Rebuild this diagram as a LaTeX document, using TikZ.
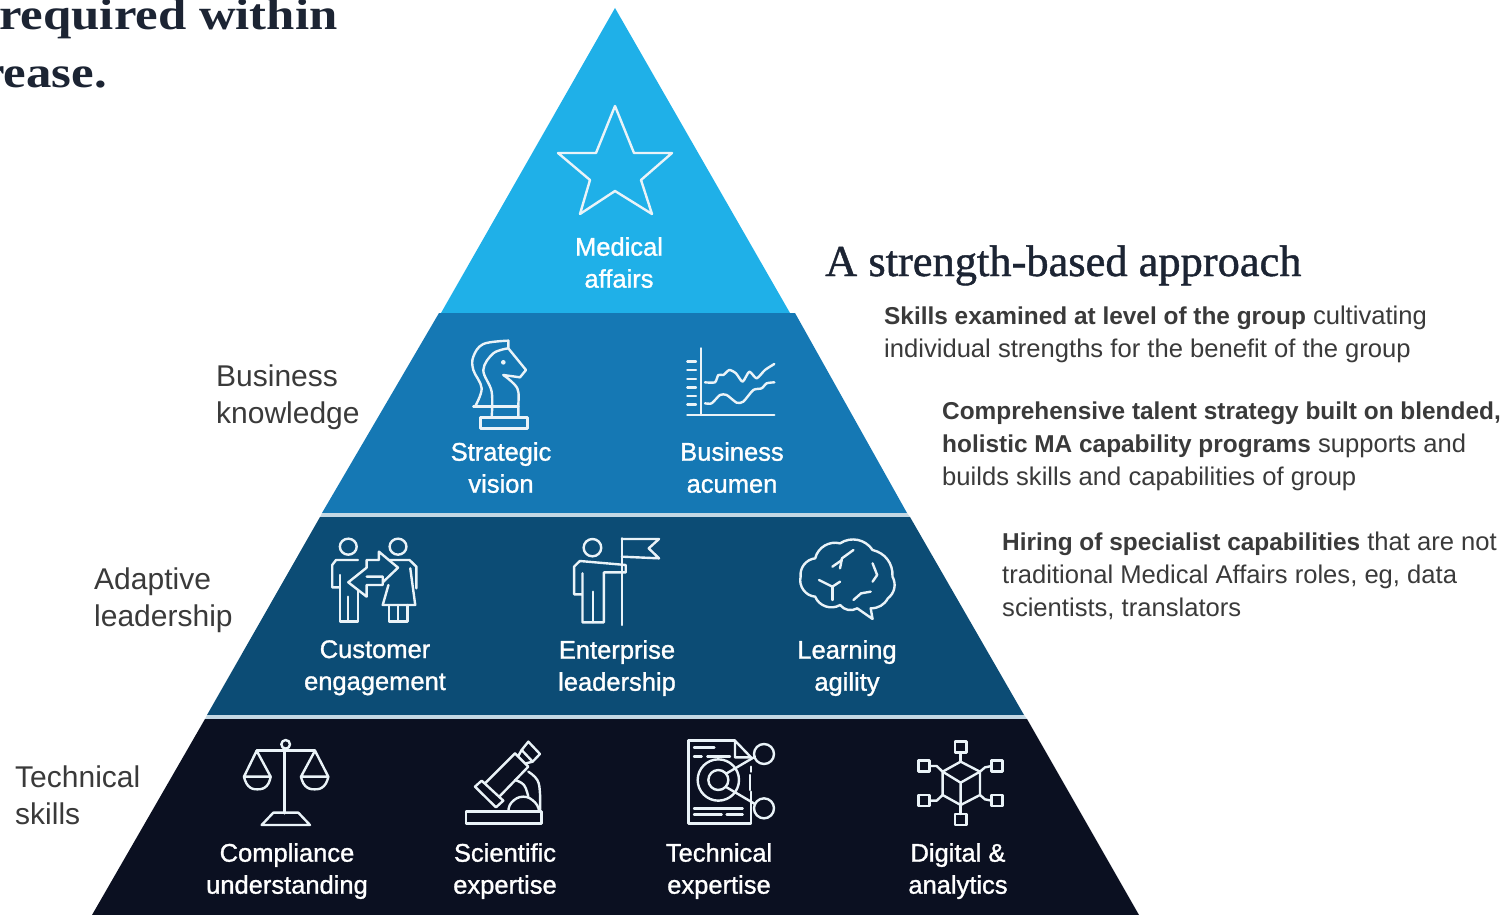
\documentclass[tikz,border=0pt]{standalone}
\usepackage{fontspec}
\setmainfont{Liberation Sans}
\newfontfamily\headfont[FakeBold=1,FakeStretch=1.01]{Liberation Serif}
\newfontfamily\cropfont[FakeStretch=1.155]{Liberation Serif Bold}
\newfontfamily\skillfont[FakeBold=1.2]{Liberation Sans}
\definecolor{bandA}{HTML}{1FB0E8}
\definecolor{bandB}{HTML}{1578B4}
\definecolor{bandC}{HTML}{0C4C75}
\definecolor{bandD}{HTML}{0B1021}
\definecolor{gapc}{HTML}{C4D8E4}
\definecolor{bodyc}{HTML}{3A3A3A}
\definecolor{iconc}{HTML}{EAF3F8}
\definecolor{headc}{HTML}{1C2433}
\tikzset{
  x=1pt,y=-1pt,
  icon/.style={draw=iconc,line width=2.4pt,line join=round,line cap=round},
  zoomA/.style={shift={(440,320)},x=0.3333pt,y=-0.3333pt},
  zoomB/.style={shift={(310,525)},x=0.3827pt,y=-0.3333pt},
  zoomC/.style={shift={(220,730)},x=0.3333pt,y=-0.3333pt},
  zoomD/.style={shift={(670,730)},x=0.3333pt,y=-0.3333pt},
  skill/.style={text=white,align=center,inner sep=0pt,font=\skillfont\fontsize{25.5}{32}\selectfont,anchor=north},
  tier/.style={text=bodyc,align=left,inner sep=0pt,font=\fontsize{30}{36.5}\selectfont,anchor=north west},
  note/.style={text=bodyc,align=left,inner sep=0pt,font=\fontsize{25.6}{33}\selectfont,anchor=north west},
  serif/.style={text=headc,inner sep=0pt,anchor=base west,font=\headfont\fontsize{44}{44}\selectfont},
  crop/.style={text=headc,inner sep=0pt,anchor=base west,font=\cropfont\fontsize{44}{44}\selectfont},
}
\newcommand{\lead}[1]{{\bfseries\fontsize{24.4}{33}\selectfont #1}}
\begin{document}
\begin{tikzpicture}
\useasboundingbox (0,0) rectangle (1509,915);
\clip (0,0) rectangle (1509,915);
\fill[white] (0,0) rectangle (1509,915);
% pyramid
\fill[bandA] (615,8) -- (790,313) -- (441,313) -- cycle;
\fill[bandB] (439,313) -- (795,313) -- (907,513) -- (322,513) -- cycle;
\fill[gapc] (322,513) -- (907,513) -- (910,517) -- (320,517) -- cycle;
\fill[bandC] (320,517) -- (910,517) -- (1024,715) -- (207,715) -- cycle;
\fill[gapc] (207,715) -- (1024,715) -- (1027,719) -- (205,719) -- cycle;
\fill[bandD] (205,719) -- (1027,719) -- (1139,915) -- (92,915) -- cycle;
% star
\draw[icon] (615,106) -- (634,153) -- (672,153) -- (641,180) -- (652,214) -- (615,191) -- (580,214) -- (590,180) -- (558,153) -- (596,153) -- cycle;
% knight
\begin{scope}[zoomA]
\draw[icon] (122,292) rectangle (262,326);
\draw[icon] (100,260) -- (235,260);
\draw[icon] plot[smooth,tension=0.6] coordinates {(105,260) (125,205) (100,150) (100,110) (130,72) (205,62)};
\draw[icon] (205,62) -- (205,85) -- (258,150) -- (240,172) -- (190,165);
\draw[icon] plot[smooth,tension=0.6] coordinates {(190,165) (232,205) (235,260) (235,292)};
\draw[icon] plot[smooth,tension=0.6] coordinates {(205,85) (160,100) (130,150) (155,215) (155,292)};
\fill[iconc] (190,127) circle[radius=7];
% chart
\draw[icon] (783,85) -- (783,285);
\draw[icon] (742,285) -- (1003,285);
\foreach \ty in {125,150,177,202,228,253} \draw[icon] (742,\ty) -- (768,\ty);
\draw[icon] plot[smooth,tension=0.4] coordinates {(795,187) (825,187) (835,165) (850,165) (868,150) (888,160) (908,185) (928,155) (950,175) (975,150) (1003,132)};
\draw[icon] plot[smooth,tension=0.4] coordinates {(795,250) (815,250) (840,225) (860,225) (890,248) (910,245) (940,210) (965,205) (980,190) (1003,187)};
\end{scope}
\begin{scope}[zoomB]
% customer engagement
\draw[icon] (100,65) ellipse[x radius=22,y radius=24];
\draw[icon] (78,150) -- (78,290) -- (125,290) -- (125,195);
\draw[icon] (100,215) -- (100,290);
\draw[icon] (78,187) -- (58,187) -- (58,120) -- (68,105) -- (125,105);
\draw[icon] (100,172) -- (148,128) -- (148,105) -- (180,105) -- (180,80) -- (230,128) -- (190,172) -- (190,155) -- (148,155) -- (190,155) -- (190,180) -- (148,180) -- (148,215) -- cycle;
\draw[icon] (230,65) ellipse[x radius=22,y radius=24];
\draw[icon] (205,105) -- (260,105) -- (278,125) -- (278,190);
\draw[icon] (262,130) -- (275,240) -- (190,240) -- (205,180);
\draw[icon] (207,240) -- (207,290) -- (255,290) -- (255,240);
\draw[icon] (230,240) -- (230,290);
% enterprise leadership
\draw[icon] (738,68) ellipse[x radius=23,y radius=26];
\draw[icon] (712,145) -- (712,208) -- (690,208) -- (690,125) -- (705,108) -- (825,120) -- (825,142) -- (768,142) -- (768,292) -- (712,292) -- (712,208);
\draw[icon] (740,200) -- (740,292);
\draw[icon] (815,40) -- (815,300);
\draw[icon] (815,42) -- (912,42) -- (885,70) -- (912,100) -- (815,95);
% brain
\draw[icon] (1282,155) to[bend left=45] (1320,100) to[bend left=45] (1385,55) to[bend left=45] (1470,75) to[bend left=40] (1522,155) to[bend left=40] (1510,220) to[bend left=30] (1465,250) -- (1470,282) -- (1430,250) to[bend left=40] (1385,240) to[bend left=50] (1320,215) to[bend left=50] cycle;
\draw[icon] (1365,125) -- (1390,105);
\draw[icon] (1385,130) -- (1390,100) -- (1420,75);
\draw[icon] (1470,115) -- (1482,150) -- (1470,170);
\draw[icon] (1330,165) -- (1365,185) -- (1385,170);
\draw[icon] (1365,185) -- (1365,225);
\draw[icon] (1420,225) -- (1440,205) -- (1465,200);
\end{scope}
\begin{scope}[zoomC]
% scales
\draw[icon] (193,60) -- (193,250);
\draw[icon] (197,43) circle[radius=13];
\draw[icon] (110,62) -- (285,62);
\draw[icon] (72,140) -- (110,62) -- (152,140) -- cycle;
\draw[icon] plot[smooth,tension=0.8] coordinates {(72,140) (85,168) (112,178) (140,168) (152,140)};
\draw[icon] (243,140) -- (285,62) -- (325,140) -- cycle;
\draw[icon] plot[smooth,tension=0.8] coordinates {(243,140) (256,168) (284,178) (312,168) (325,140)};
\draw[icon] (125,285) -- (160,248) -- (235,248) -- (270,285) -- cycle;
% microscope
\draw[icon] (738,245) rectangle (965,280);
\draw[icon] (765,170) -- (785,152) -- (850,212) -- (828,232) -- cycle;
\draw[icon] (795,160) -- (885,70) -- (925,110) -- (838,200);
\draw[icon] (905,60) -- (925,35) -- (960,72) -- (938,95) -- cycle;
\draw[icon] (895,78) -- (905,60) (918,100) -- (938,95);
\draw[icon] plot[smooth,tension=0.7] coordinates {(925,125) (952,150) (960,190) (960,245)};
\draw[icon] plot[smooth,tension=0.7] coordinates {(885,150) (912,165) (925,200)};
\draw[icon] plot[smooth,tension=0.8] coordinates {(865,245) (875,217) (910,200) (945,217) (958,245)};
\end{scope}
\begin{scope}[zoomD]
% document
\draw[icon] (243,125) -- (243,110);
\draw[icon] (195,32) -- (55,32) -- (55,280) -- (243,280) -- (243,185);
\draw[icon] (195,32) -- (243,82) -- (195,82) -- cycle;
\draw[icon] (72,53) -- (133,53) (72,80) -- (95,80) (112,80) -- (180,80);
\draw[icon] (72,235) -- (218,235) (72,253) -- (155,253) (170,253) -- (218,253);
\draw[icon] (145,150) circle[radius=62];
\draw[icon] (145,150) circle[radius=30];
\draw[icon] (170,130) -- (255,80);
\draw[icon] (170,172) -- (255,222);
\draw[icon] (282,72) circle[radius=30];
\draw[icon] (282,235) circle[radius=30];
\draw[icon] (240,135) -- (240,180);
% hexagon network
\draw[icon] (872,95) -- (930,125) -- (930,195) -- (872,225) -- (818,195) -- (818,125) -- cycle;
\draw[icon] (818,125) -- (872,158) -- (930,125) (872,158) -- (872,225);
\draw[icon] (855,35) rectangle (890,68);
\draw[icon] (855,252) rectangle (890,285);
\draw[icon] (745,92) rectangle (778,125);
\draw[icon] (745,195) rectangle (778,228);
\draw[icon] (965,92) rectangle (998,125);
\draw[icon] (965,195) rectangle (998,228);
\draw[icon] (872,68) -- (872,95) (872,225) -- (872,252);
\draw[icon] (778,108) -- (800,108) -- (818,125) (778,212) -- (800,212) -- (818,195);
\draw[icon] (965,108) -- (945,112) -- (930,125) (965,212) -- (945,208) -- (930,195);
\end{scope}
% top-left cropped heading
\node[crop] (headA) at (-1,30) {required within};
\node[crop] (headB) at (-18,88) {rease.};
\node[serif] (headC) at (825,276) {A strength-based approach};
% tier labels
\node[tier] (tierA) at (216,365) {Business\\knowledge};
\node[tier] (tierB) at (94,568) {Adaptive\\leadership};
\node[tier] (tierC) at (15,766) {Technical\\skills};
% skills
\node[skill] (s1) at (619,237) {Medical\\affairs};
\node[skill] (s2) at (501,442) {Strategic\\vision};
\node[skill] (s3) at (732,442) {Business\\acumen};
\node[skill] (s4) at (375,640) {Customer\\engagement};
\node[skill] (s5) at (617,640) {Enterprise\\leadership};
\node[skill] (s6) at (847,640) {Learning\\agility};
\node[skill] (s7) at (287,843) {Compliance\\understanding};
\node[skill] (s8) at (505,843) {Scientific\\expertise};
\node[skill] (s9) at (719,843) {Technical\\expertise};
\node[skill] (s10) at (958,843) {Digital \&\\analytics};
% notes
\node[note] (n1) at (884,306) {\lead{Skills examined at level of the group} cultivating\\individual strengths for the benefit of the group};
\node[note] (n2) at (942,402) {\lead{Comprehensive talent strategy built on blended,}\\\lead{holistic MA capability programs} supports and\\builds skills and capabilities of group};
\node[note] (n3) at (1002,532) {\lead{Hiring of specialist capabilities} that are not\\traditional Medical Affairs roles, eg, data\\scientists, translators};
\end{tikzpicture}
\end{document}
